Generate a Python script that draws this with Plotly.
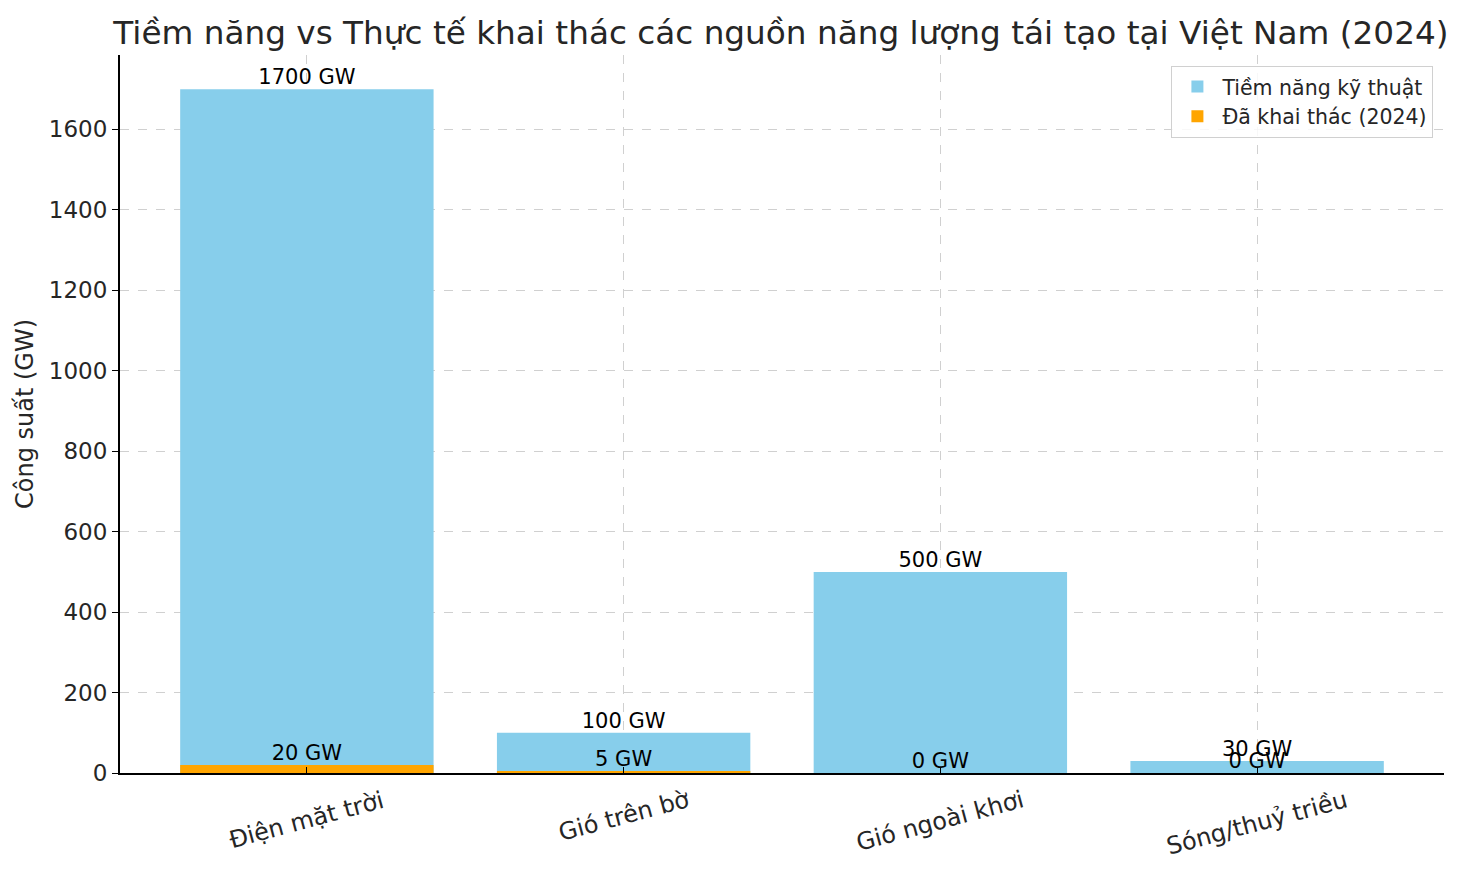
import plotly.graph_objects as go

# data
sources = ["Điện mặt trời", "Gió trên bờ", "Gió ngoài khơi", "Sóng/thuỷ triều"]
potential_gw = [1700, 100, 500, 30]
deployed_gw = [20, 5, 0, 0]

blue = "#87CEEB"
orange = "#FFA500"
font = "DejaVu Sans, Noto Sans, sans-serif"
txt = "#262626"


def labels(vals):
    return ["%d GW" % v for v in vals]


fig = go.Figure()

fig.add_trace(go.Bar(x=sources, y=potential_gw, width=0.8, marker=dict(color=blue, line=dict(width=0)),
                     name="Tiềm năng kỹ thuật"))
fig.add_trace(go.Bar(x=sources, y=deployed_gw, width=0.8, marker=dict(color=orange, line=dict(width=0)),
                     name="Đã khai thác (2024)"))

# value labels sitting on top of each bar
for vals in (potential_gw, deployed_gw):
    fig.add_trace(go.Scatter(x=sources, y=vals, mode="text", text=labels(vals),
                             textposition="top center", textfont=dict(size=21, color="black", family=font),
                             showlegend=False, hoverinfo="skip", cliponaxis=False))

# category labels, centred under each tick and tilted like the original
for s in sources:
    fig.add_annotation(x=s, xref="x", y=0, yref="paper", yshift=-10, text=s, showarrow=False,
                       textangle=-15, xanchor="center", yanchor="top",
                       font=dict(size=24, family=font, color=txt))

# the page body has an 8px margin, so the figure is a bit smaller than the window
fig.update_layout(
    width=1457, height=862,
    barmode="overlay",
    plot_bgcolor="white", paper_bgcolor="white",
    font=dict(family=font, color=txt),
    margin=dict(l=112, r=21, t=47, b=97, autoexpand=False),
    title=dict(text="Tiềm năng vs Thực tế khai thác các nguồn năng lượng tái tạo tại Việt Nam (2024)",
               x=0.5305, xanchor="center", y=0.972, yanchor="middle",
               font=dict(size=32.7, color=txt, family=font)),
    legend=dict(x=0.992, y=0.985, xanchor="right", yanchor="top",
                bgcolor="rgba(255,255,255,0.85)", bordercolor="#d0d0d0", borderwidth=1,
                font=dict(size=20.5, color=txt, family=font), tracegroupgap=2, itemwidth=40),
    xaxis=dict(range=[-0.59, 3.59], showticklabels=False,
               showline=True, linecolor="black", linewidth=2, ticks="inside", ticklen=6,
               tickcolor="black", showgrid=True, gridcolor="rgba(170,170,170,0.55)", griddash="dash",
               gridwidth=1),
    yaxis=dict(range=[0, 1785], dtick=200, tickfont=dict(size=23, family=font, color=txt),
               showline=True, linecolor="black", linewidth=2, ticks="outside", ticklen=6,
               tickcolor="black", showgrid=True, gridcolor="rgba(170,170,170,0.55)", griddash="dash",
               gridwidth=1, zeroline=False, automargin=False,
               title=dict(text="Công suất (GW)", font=dict(size=24, family=font, color=txt), standoff=8)),
)

fig.write_html("out.html")
